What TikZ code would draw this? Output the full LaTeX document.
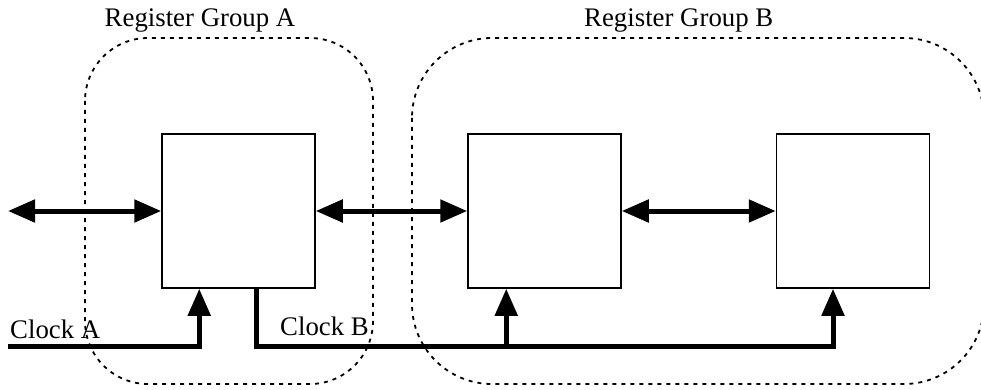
\documentclass[tikz,border=0pt]{standalone}
\usepackage{fontspec}
\setmainfont{Liberation Serif}
\usetikzlibrary{arrows.meta}
\begin{document}
\begin{tikzpicture}[x=1pt,y=-1pt,
  reg/.style={draw,line width=1.5pt,minimum width=153pt,minimum height=154pt,inner sep=0pt},
  grp/.style={draw,line width=1.8pt,dash pattern=on 4pt off 5pt},
  bus/.style={line width=5pt},
  tip/.style={line width=5pt,-{Triangle[length=27pt,width=22pt]}},
  dtip/.style={line width=5pt,{Triangle[length=27pt,width=22pt]}-{Triangle[length=27pt,width=22pt]}},
  lbl/.style={font=\fontsize{26.8}{32}\selectfont,inner sep=0pt}]
\useasboundingbox (0,0) rectangle (981,390);
\clip (0,0) rectangle (981,390);
% groups
\draw[grp,rounded corners=63pt] (85,38) rectangle (373,384);
\draw[grp,rounded corners=80pt] (412,38) rectangle (984,384);
\node[lbl,anchor=base] (ga) at (200,27) {Register Group A};
\node[lbl,anchor=base west] (gb) at (584,27) {Register Group B};
% registers
\node[reg] (b1) at (238.5,211) {};
\node[reg] (b2) at (544.5,211) {};
\node[reg] (b3) at (853,211) {};
% data arrows
\coordinate (L) at (8,211);
\draw[dtip] (L) -- (b1.west);
\draw[dtip] (b1.east) -- (b2.west);
\draw[dtip] (b2.east) -- (b3.west);
% clocks
\coordinate (ca) at (8,346);
\coordinate (cb) at (833,346);
\draw[tip] (ca) -| ([xshift=38pt]b1.south west);
\draw[tip] ([xshift=95pt]b1.south west) |- (cb) -- ([xshift=-20pt]b3.south);
\draw[tip] ([xshift=39pt]b2.south west |- cb) -- ([xshift=39pt]b2.south west);
\node[lbl,anchor=base west] (la) at (10,338) {Clock A};
\node[lbl,anchor=base west] (lb) at (280,335) {Clock B};
\end{tikzpicture}
\end{document}
